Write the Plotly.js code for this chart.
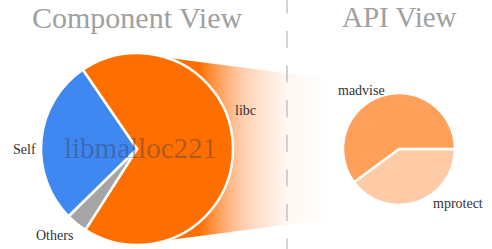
<!DOCTYPE html>
<html><head><meta charset="utf-8">
<script src="https://cdn.plot.ly/plotly-3.0.1.min.js"></script>
<style>html,body{margin:0;padding:0;background:#fff}#c{width:492px;height:249px}</style>
</head><body><div id="c"></div>
<script>
const componentLabels = ["libc", "Others", "Self"];
const componentValues = [68.6, 3.6, 27.8];
const componentColors = ["#FF6F00", "#A5A5A5", "#3F88F2"];
const apiLabels = ["mprotect", "madvise"];
const apiValues = [39.9, 60.1];
const apiColors = ["#FFCBA6", "#FFA05A"];
const titles = ["Component View", "API View"];
const centerText = "libmalloc221";

const W = 492, H = 249;
const L = {cx: 137, cy: 149, r: 96};
const R = {cx: 399, cy: 149, r: 56};
function dom(p){return {x:[(p.cx-p.r)/W,(p.cx+p.r)/W], y:[1-(p.cy+p.r)/H, 1-(p.cy-p.r)/H]};}

// connector band (decorative)
const bx0 = 165, bx1 = 335, bh0 = 91.6, bh1 = 69.5;
const band = {
  type:'scatter', mode:'lines', x:[bx0,bx1,bx1,bx0,bx0], y:[L.cy-bh0,R.cy-bh1,R.cy+bh1,L.cy+bh0,L.cy-bh0],
  line:{width:0}, fill:'toself', hoverinfo:'skip', showlegend:false,
  fillgradient:{type:'horizontal', start:200, stop:335,
    colorscale:[[0,'rgba(255,112,0,1)'],[0.3,'rgba(255,150,80,0.5)'],[0.65,'rgba(255,200,160,0.15)'],[1,'rgba(255,230,210,0)']]}
};

const serif = "Liberation Serif";
const pieL = {type:'pie', labels:componentLabels, values:componentValues, sort:false, direction:'clockwise',
  rotation:-34.4, domain:dom(L), textinfo:'none', hoverinfo:'label+percent',
  marker:{colors:componentColors, line:{color:'#fff', width:2.5}}, showlegend:false};
const pieR = {type:'pie', labels:apiLabels, values:apiValues, sort:false, direction:'clockwise',
  rotation:90, domain:dom(R), textinfo:'none', hoverinfo:'label+percent',
  marker:{colors:apiColors, line:{color:'#fff', width:2.5}}, showlegend:false};

const lab = (t,x,y)=>({text:t, x:x, y:y, xref:'x', yref:'y', showarrow:false, font:{family:serif, size:14, color:'#333'}});
const annotations = [
  {text:titles[0], x:L.cx, y:17, xref:'x', yref:'y', showarrow:false, font:{family:serif, size:30, color:'#a0a0a0'}},
  {text:titles[1], x:R.cx, y:17, xref:'x', yref:'y', showarrow:false, font:{family:serif, size:29, color:'#a0a0a0'}},
  {text:centerText, x:140, y:148, xref:'x', yref:'y', showarrow:false, font:{family:serif, size:29, color:'rgba(60,60,85,0.42)'}},
  lab(componentLabels[0], 245, 110),
  lab(componentLabels[2], 24, 149),
  lab(componentLabels[1], 54, 235),
  lab(apiLabels[1], 361, 90),
  lab(apiLabels[0], 458, 203)
];

const layout = {
  width:W, height:H, margin:{l:0,r:0,t:0,b:0}, paper_bgcolor:'#fff', plot_bgcolor:'rgba(0,0,0,0)',
  font:{family:serif},
  xaxis:{range:[0,W], visible:false, fixedrange:true},
  yaxis:{range:[H,0], visible:false, fixedrange:true},
  showlegend:false,
  shapes:[{type:'line', xref:'x', yref:'y', x0:287, x1:287, y0:-3.6, y1:H, layer:'above',
    line:{color:'#c4c4c4', width:1.5, dash:'17px,17.6px'}}],
  annotations:annotations
};
Plotly.newPlot('c', [band, pieL, pieR], layout, {displayModeBar:false, staticPlot:true});
</script></body></html>
